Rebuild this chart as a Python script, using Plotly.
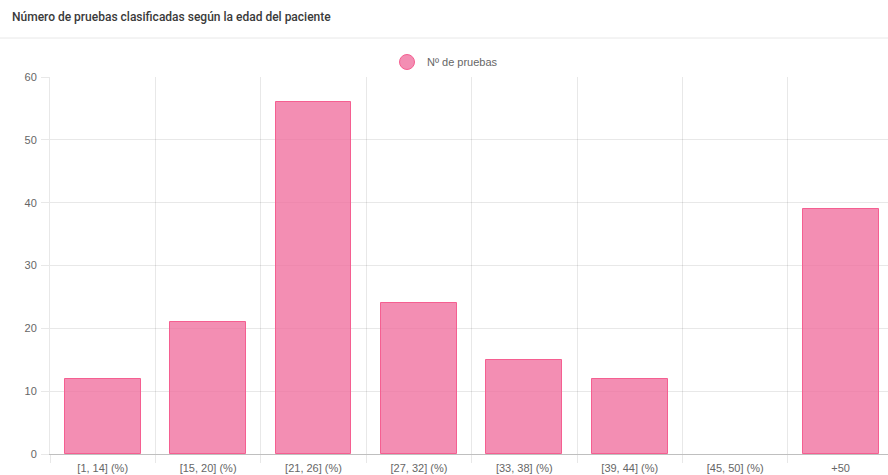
import plotly.graph_objects as go

# Age groups and number of tests in each
categorias = ["[1, 14] (%)", "[15, 20] (%)", "[21, 26] (%)", "[27, 32] (%)",
              "[33, 38] (%)", "[39, 44] (%)", "[45, 50] (%)", "+50"]
pruebas = [12, 21, 56, 24, 15, 12, 0, 39]
y_ticks = [0, 10, 20, 30, 40, 50, 60]

titulo = "Número de pruebas clasificadas según la edad del paciente"
serie = "Nº de pruebas"

FILL = "rgba(239,110,157,0.78)"
EDGE = "rgba(245,95,145,1)"
GRID = "rgba(0,0,0,0.09)"
TXT = "#666666"
FONT = "Liberation Sans, Arial, sans-serif"

pos = list(range(len(categorias)))
# no outline on empty bars
edge_w = [1 if v > 0 else 0 for v in pruebas]

fig = go.Figure()
fig.add_trace(go.Bar(
    x=pos, y=pruebas, width=0.72,
    marker=dict(color=FILL, line=dict(color=EDGE, width=edge_w)),
    showlegend=False, hoverinfo="y",
))
# legend entry drawn as a circle
fig.add_trace(go.Scatter(
    x=[None], y=[None], mode="markers", name=serie,
    marker=dict(symbol="circle", size=15, color=FILL, line=dict(color=EDGE, width=1)),
))

W, H = 888, 475
L, T, B = 50, 77, 21
plot_w = W - L
plot_h = H - T - B

fig.update_layout(
    width=W, height=H,
    margin=dict(l=L, r=0, t=T, b=B, pad=0),
    plot_bgcolor="white", paper_bgcolor="white",
    font=dict(family=FONT, size=11, color=TXT),
    bargap=0,
    legend=dict(
        orientation="h", x=(445 - L) / plot_w, xanchor="center",
        y=(H - B - 62) / plot_h, yanchor="middle",
        font=dict(family=FONT, size=11, color=TXT),
        itemwidth=30,
    ),
    annotations=[dict(
        text=titulo, xref="paper", yref="paper",
        x=-L / plot_w + 10 / plot_w, y=(H - B - 17) / plot_h,
        xanchor="left", yanchor="middle", showarrow=False,
        font=dict(family="Roboto, sans-serif", size=12, color="#3a3a3a", weight=500),
    )],
    shapes=[dict(
        type="line", xref="paper", yref="paper",
        x0=-L / plot_w, x1=1, y0=(H - B - 38) / plot_h, y1=(H - B - 38) / plot_h,
        line=dict(color="#e8e8e8", width=1),
    )],
)

fig.update_xaxes(
    range=[-0.5, 7.45],
    tickmode="array", tickvals=pos, ticktext=categorias,
    ticks="", showgrid=False, zeroline=False,
    showline=True, linecolor="rgba(0,0,0,0.25)", linewidth=1,
    tickfont=dict(family=FONT, size=11, color=TXT),
    ticklabelstandoff=4,
    minor=dict(
        tickmode="array", tickvals=[p - 0.5 for p in pos] + [7.5],
        showgrid=True, gridcolor=GRID, gridwidth=1,
        ticks="outside", ticklen=8, tickcolor=GRID,
    ),
    fixedrange=True,
)
fig.update_yaxes(
    range=[0, 60], tickmode="array", tickvals=y_ticks,
    showgrid=True, gridcolor=GRID, gridwidth=1,
    zeroline=False, showline=True, linecolor=GRID,
    ticks="outside", ticklen=8, tickcolor=GRID,
    tickfont=dict(family=FONT, size=11, color=TXT),
    ticklabelstandoff=2,
    fixedrange=True,
)

fig.write_html("out.html")
